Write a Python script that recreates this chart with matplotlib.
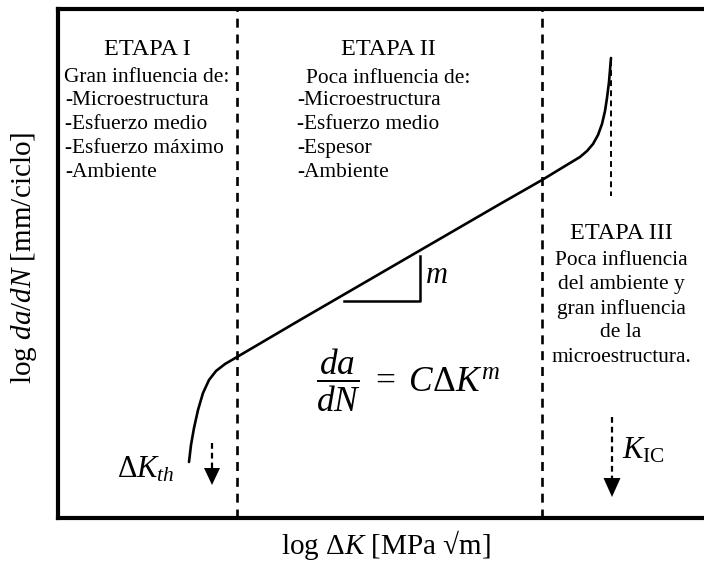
import matplotlib
matplotlib.use("Agg")
import matplotlib.pyplot as plt

plt.rcParams['font.family'] = ['Liberation Serif', 'DejaVu Serif']
plt.rcParams['mathtext.fontset'] = 'custom'
plt.rcParams['mathtext.rm'] = 'Liberation Serif'
plt.rcParams['mathtext.it'] = 'Liberation Serif:italic'
plt.rcParams['mathtext.bf'] = 'Liberation Serif:bold'

# ---- data (schematic da/dN vs dK curve, in figure-pixel-like units) ----
curve_x = [189, 191, 194, 198, 203, 209, 216, 225, 237, 300, 400, 500, 542,
           570, 580, 587, 593, 598, 602, 605, 607, 609, 610, 611]
curve_y_px = [462, 445, 428, 410, 393, 380, 371, 364, 357, 320, 262, 204, 180,
              163, 157, 151, 144, 135, 124, 111, 98, 82, 70, 58]

stage_bounds_x = [237, 542]

stage_titles = ["ETAPA I", "ETAPA II", "ETAPA III"]
stage1_head = "Gran influencia de:"
stage1_items = ["-Microestructura", "-Esfuerzo medio", "-Esfuerzo máximo", "-Ambiente"]
stage2_head = "Poca influencia de:"
stage2_items = ["-Microestructura", "-Esfuerzo medio", "-Espesor", "-Ambiente"]
stage3_lines = ["Poca influencia", "del ambiente y", "gran influencia", "de la",
                "microestructura."]

xlabel = r"log $\Delta\mathit{K}$ [MPa √m]"
ylabel = r"log $\mathit{da/dN}$ [mm/ciclo]"

H = 566
def Y(p):
    return H - p

fig = plt.figure(figsize=(7.04, 5.66), dpi=100)
ax_left, ax_right, ax_top, ax_bot = 58, 704, 9, 518
ax = fig.add_axes([ax_left / 704, (H - ax_bot) / H, (ax_right - ax_left) / 704,
                   (ax_bot - ax_top) / H])
ax.set_xlim(ax_left, ax_right)
ax.set_ylim(Y(ax_bot), Y(ax_top))
ax.set_xticks([])
ax.set_yticks([])
for s in ['left', 'top', 'bottom']:
    ax.spines[s].set_linewidth(3.0)
ax.spines['right'].set_visible(False)

# stage boundaries
for bx in stage_bounds_x:
    ax.plot([bx, bx], [Y(ax_bot), Y(ax_top)], color='black', lw=1.9,
            linestyle=(0, (3.4, 2.6)), solid_capstyle='butt', clip_on=False)

# curve
ax.plot(curve_x, [Y(v) for v in curve_y_px], color='black', lw=1.9,
        solid_capstyle='round', solid_joinstyle='round')

# slope triangle
tri_x = [344, 420, 420]
tri_y = [301, 301, 256]
ax.plot(tri_x, [Y(v) for v in tri_y], color='black', lw=1.8)
ax.text(425, Y(275), r"$\mathit{m}$", fontsize=22, ha='left', va='center')

# K_IC dashed guide above
ax.plot([611, 611], [Y(60), Y(196)], color='black', lw=1.4,
        linestyle=(0, (3.0, 2.2)))

def arrow(x, y0, y1, hw=8.5, hl=19):
    ax.plot([x, x], [Y(y0), Y(y1 - hl + 2)], color='black', lw=1.6,
            linestyle=(0, (2.6, 1.8)), solid_capstyle='butt')
    ax.fill([x - hw, x + hw, x], [Y(y1 - hl), Y(y1 - hl), Y(y1)], color='black', lw=0)

arrow(612, 417, 497)
arrow(212, 443, 485, hw=8, hl=17)

ax.text(622, Y(451), r"$\mathit{K}_{\mathrm{IC}}$", fontsize=22, ha='left', va='center')
ax.text(117, Y(470), r"$\Delta\mathit{K}_{\mathit{th}}$", fontsize=22, ha='left', va='center')

# equation
ax.text(316, Y(380), r"$\dfrac{da}{dN}\ =\ C\Delta K^{m}$", fontsize=25.5,
        ha='left', va='center')

fs = 15.4
tfs = 17.5
lh = 24
# stage I
ax.text(147, Y(49), stage_titles[0], fontsize=tfs, ha='center', va='center')
ax.text(147, Y(77), stage1_head, fontsize=fs, ha='center', va='center')
for i, t in enumerate(stage1_items):
    ax.text(65, Y(100 + lh * i), t, fontsize=fs, ha='left', va='center')
# stage II
ax.text(388, Y(49), stage_titles[1], fontsize=tfs, ha='center', va='center')
ax.text(388, Y(78), stage2_head, fontsize=fs, ha='center', va='center')
for i, t in enumerate(stage2_items):
    ax.text(297, Y(100 + lh * i), t, fontsize=fs, ha='left', va='center')
# stage III
ax.text(621, Y(233), stage_titles[2], fontsize=tfs, ha='center', va='center')
for i, t in enumerate(stage3_lines):
    ax.text(621, Y(260 + 24.3 * i), t, fontsize=fs, ha='center', va='center')

fig.text(386 / 704, 1 - 545 / H, xlabel, fontsize=21, ha='center', va='center')
fig.text(24 / 704, 1 - 258 / H, ylabel, fontsize=21, ha='center', va='center',
         rotation=90)

fig.savefig("out.png", dpi=100)
